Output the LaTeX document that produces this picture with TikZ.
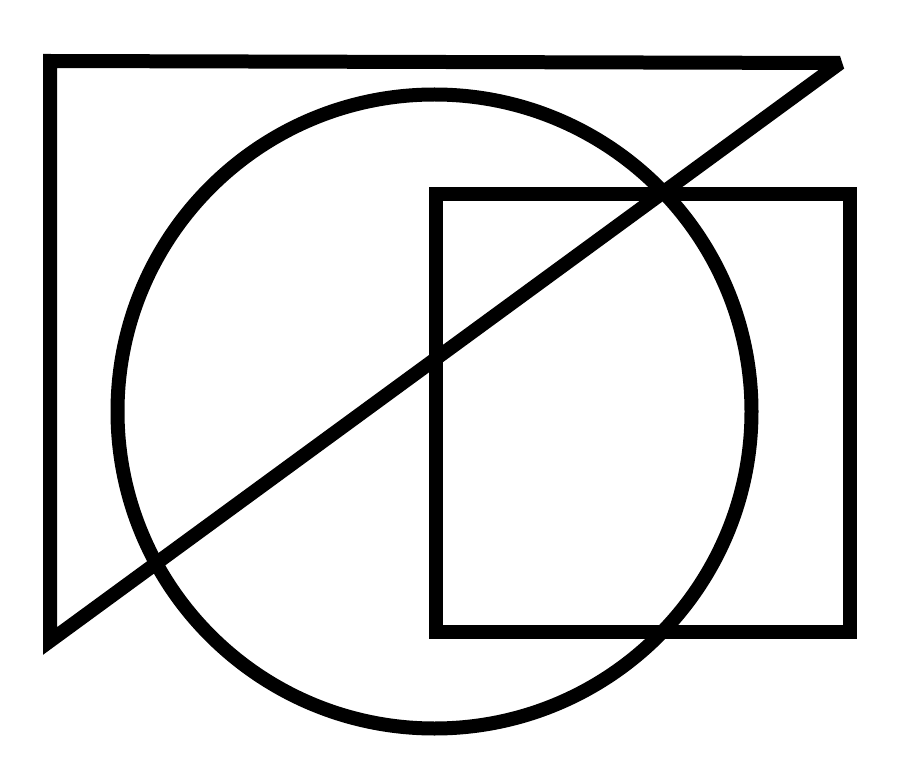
\documentclass[tikz,border=0pt]{standalone}
\usepackage{tikz}

\begin{document}
\begin{tikzpicture}[x=1pt, y=-1pt,
    outline/.style={%
      draw=black, line width=14pt, line join=round
    },
    boxline/.style={%
      outline, line join=miter
    }
]
    \useasboundingbox (0,0) rectangle (900,770);

    % triangle
    \coordinate (tl) at (50,61);
    \coordinate (tr) at (840,63);
    \coordinate (bl) at (50,641);
    \draw[boxline, miter limit=3] (tl) -- (tr) -- (bl) -- cycle;

    % circle
    \coordinate (c) at (434.5,411.5);
    \draw[outline] (c) circle [radius=317pt];

    % square
    \coordinate (sq1) at (435.5,194);
    \coordinate (sq2) at (849.5,631.5);
    \draw[boxline] (sq1) rectangle (sq2);

\end{tikzpicture}
\end{document}
